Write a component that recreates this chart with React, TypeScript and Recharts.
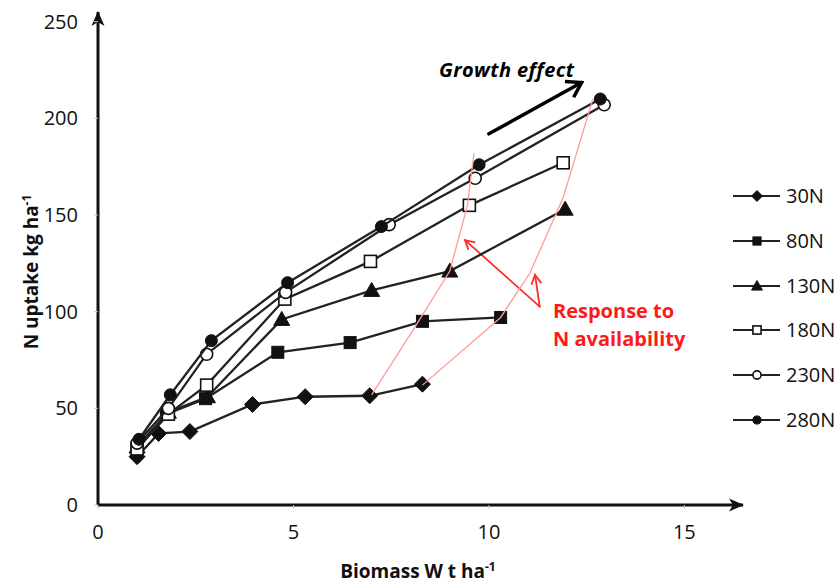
import React from 'react';
import { ComposedChart, Scatter, XAxis, YAxis, ReferenceLine, Legend } from 'recharts';

const xTicks = [0, 5, 10, 15];
const yTicks = [0, 50, 100, 150, 200, 250];

const n30 = [
  { x: 1.0, y: 25 }, { x: 1.55, y: 37 }, { x: 2.35, y: 38 }, { x: 3.95, y: 52 },
  { x: 5.3, y: 56 }, { x: 6.95, y: 56.5 }, { x: 8.3, y: 62.5 },
];
const n80 = [
  { x: 1.0, y: 30 }, { x: 1.75, y: 47 }, { x: 2.75, y: 55 }, { x: 4.6, y: 79 },
  { x: 6.45, y: 84 }, { x: 8.3, y: 95 }, { x: 10.3, y: 97 },
];
const n130 = [
  { x: 1.0, y: 30 }, { x: 1.8, y: 48 }, { x: 2.8, y: 56 }, { x: 4.7, y: 96 },
  { x: 7.0, y: 111 }, { x: 9.0, y: 121 }, { x: 11.95, y: 153 },
];
const n180 = [
  { x: 1.0, y: 29 }, { x: 1.8, y: 47 }, { x: 2.78, y: 62 }, { x: 4.78, y: 106.5 },
  { x: 6.97, y: 126 }, { x: 9.5, y: 155 }, { x: 11.9, y: 177 },
];
const n230 = [
  { x: 1.0, y: 32 }, { x: 1.8, y: 50 }, { x: 2.78, y: 78 }, { x: 4.8, y: 110 },
  { x: 7.45, y: 145 }, { x: 9.65, y: 169 }, { x: 12.95, y: 207 },
];
const n280 = [
  { x: 1.05, y: 34 }, { x: 1.85, y: 57 }, { x: 2.9, y: 85 }, { x: 4.85, y: 115 },
  { x: 7.25, y: 144 }, { x: 9.75, y: 176 }, { x: 12.85, y: 210 },
];

const seriesNames = ['30N', '80N', '130N', '180N', '230N', '280N'];
const seriesData = [n30, n80, n130, n180, n230, n280];
const markerKinds = ['diamond', 'square', 'triangle', 'square', 'circle', 'circle'];
const markerOpen = [false, false, false, true, true, false];

const responseCurveA = [
  { x: 7.0, y: 57 }, { x: 8.2, y: 95 }, { x: 9.0, y: 121 }, { x: 9.45, y: 155 }, { x: 9.62, y: 182 },
];
const responseCurveB = [
  { x: 8.3, y: 62 }, { x: 10.3, y: 97 }, { x: 11.05, y: 120 }, { x: 11.9, y: 159 }, { x: 12.66, y: 210 },
];
const growthArrow = [{ x: 10.0, y: 192 }, { x: 12.37, y: 218.5 }];
const responseArrow1 = [{ x: 11.3, y: 102.6 }, { x: 9.39, y: 137 }];
const responseArrow2 = [{ x: 11.3, y: 102.6 }, { x: 11.18, y: 119 }];

const FONT = '"Open Sans", "DejaVu Sans", sans-serif';

function drawMarker(kind: string, open: boolean, cx: number, cy: number, s = 1) {
  const fill = open ? '#fff' : '#111';
  const stroke = '#111';
  const sw = open ? 1.6 : 1;
  if (kind === 'diamond') {
    const h = 8 * s;
    return <polygon points={`${cx},${cy - h} ${cx + h},${cy} ${cx},${cy + h} ${cx - h},${cy}`} fill={fill} stroke={stroke} strokeWidth={sw} />;
  }
  if (kind === 'square') {
    const h = 6 * s;
    return <rect x={cx - h} y={cy - h} width={2 * h} height={2 * h} fill={fill} stroke={stroke} strokeWidth={sw} />;
  }
  if (kind === 'triangle') {
    const w = 8 * s;
    return <polygon points={`${cx},${cy - 8 * s} ${cx + w},${cy + 6 * s} ${cx - w},${cy + 6 * s}`} fill={fill} stroke={stroke} strokeWidth={sw} />;
  }
  return <circle cx={cx} cy={cy} r={6 * s} fill={fill} stroke={stroke} strokeWidth={sw} />;
}

function LegendBox() {
  return (
    <div style={{ fontFamily: FONT }}>
      {seriesNames.map((name, i) => (
        <div key={name} style={{ display: 'flex', alignItems: 'center', height: 44.8 }}>
          <svg width={50} height={20} style={{ display: 'block' }}>
            <line x1={0} y1={10} x2={47} y2={10} stroke="#222" strokeWidth={2.2} />
            {drawMarker(markerKinds[i], markerOpen[i], 24, 10, 0.68)}
          </svg>
          <span style={{ fontSize: 20, color: '#111', marginLeft: 3, lineHeight: 1 }}>{name}</span>
        </div>
      ))}
    </div>
  );
}

const arrowShape = (color: string, width: number, marker: string) => (p: any) => (
  <line x1={p.x1} y1={p.y1} x2={p.x2} y2={p.y2} stroke={color} strokeWidth={width} markerEnd={marker} strokeLinecap="round" />
);

export default function App() {
  return (
    <div style={{ position: 'absolute', left: 0, top: 0, width: 840, height: 583, background: '#fff', fontFamily: FONT }}>
      <svg width={0} height={0} style={{ position: 'absolute' }}>
        <defs>
          <marker id="arrowAxis" markerUnits="userSpaceOnUse" markerWidth={16} markerHeight={16} viewBox="0 0 16 16" refX={14} refY={8} orient="auto-start-reverse">
            <path d="M0,1.5 L15,8 L0,14.5 L4,8 z" fill="#111" />
          </marker>
          <marker id="arrowBlack" markerUnits="userSpaceOnUse" markerWidth={24} markerHeight={24} viewBox="0 0 24 24" refX={20} refY={12} orient="auto">
            <path d="M6,3 L20,12 L6,21" fill="none" stroke="#000" strokeWidth={3.5} strokeLinejoin="miter" />
          </marker>
          <marker id="arrowRed" markerUnits="userSpaceOnUse" markerWidth={16} markerHeight={16} viewBox="0 0 16 16" refX={14} refY={8} orient="auto">
            <path d="M5,3 L14,8 L5,13" fill="none" stroke="#ff2a2a" strokeWidth={1.8} />
          </marker>
        </defs>
      </svg>
      <ComposedChart width={840} height={583} margin={{ top: 12, right: 97, bottom: 0, left: 38 }}>
        <XAxis
          type="number"
          dataKey="x"
          domain={[0, 16.5]}
          ticks={xTicks}
          allowDataOverflow
          height={78}
          tickSize={4}
          tickMargin={16}
          tick={{ fontSize: 20, fill: '#111', fontFamily: FONT }}
          tickLine={{ stroke: '#c8c8c8' }}
          axisLine={{ stroke: '#111', strokeWidth: 3, markerEnd: 'url(#arrowAxis)' }}
        />
        <YAxis
          type="number"
          dataKey="y"
          domain={[0, 255]}
          ticks={yTicks}
          allowDataOverflow
          width={60}
          tickSize={4}
          tickMargin={16}
          tick={{ fontSize: 20, fill: '#111', fontFamily: FONT }}
          tickLine={{ stroke: '#c8c8c8' }}
          axisLine={{ stroke: '#111', strokeWidth: 3, markerStart: 'url(#arrowAxis)' }}
        />
        {seriesData.map((d, i) => (
          <Scatter
            key={seriesNames[i]}
            name={seriesNames[i]}
            data={d}
            isAnimationActive={false}
            line={{ stroke: '#222', strokeWidth: 2.3 }}
            lineType="joint"
            shape={(p: any) => drawMarker(markerKinds[i], markerOpen[i], p.cx, p.cy)}
          />
        ))}
        <Scatter data={responseCurveA} isAnimationActive={false} line={{ stroke: '#ff9a9a', strokeWidth: 1.3 }} lineType="joint" shape={() => <g />} legendType="none" />
        <Scatter data={responseCurveB} isAnimationActive={false} line={{ stroke: '#ff9a9a', strokeWidth: 1.3 }} lineType="joint" shape={() => <g />} legendType="none" />
        <ReferenceLine segment={growthArrow} stroke="#000" strokeWidth={3.5} shape={arrowShape('#000', 3.5, 'url(#arrowBlack)')} />
        <ReferenceLine segment={responseArrow1} stroke="#ff2a2a" strokeWidth={1.8} shape={arrowShape('#ff2a2a', 1.8, 'url(#arrowRed)')} />
        <ReferenceLine segment={responseArrow2} stroke="#ff2a2a" strokeWidth={1.8} shape={arrowShape('#ff2a2a', 1.8, 'url(#arrowRed)')} />
        <Legend
          layout="vertical"
          align="center"
          verticalAlign="middle"
          wrapperStyle={{ left: 733, top: 173.6, width: 107 }}
          content={() => <LegendBox />}
        />
      </ComposedChart>
      <svg width={840} height={583} style={{ position: 'absolute', left: 0, top: 0, pointerEvents: 'none' }}>
        <text x={439} y={77} fontFamily={FONT} fontWeight={700} fontStyle="italic" fontSize={20} letterSpacing={0.4} fill="#000">Growth effect</text>
        <text x={553} y={318} fontFamily={FONT} fontWeight={700} fontSize={20} fill="#ff1a1a">Response to</text>
        <text x={553} y={346} fontFamily={FONT} fontWeight={700} fontSize={20} fill="#ff1a1a">N availability</text>
        <text transform="translate(38,272) rotate(-90)" textAnchor="middle" fontFamily={FONT} fontWeight={700} fontSize={19} fill="#111">
          N uptake kg ha<tspan dy={-7} fontSize={12}>-1</tspan>
        </text>
        <text x={418} y={578} textAnchor="middle" fontFamily={FONT} fontWeight={700} fontSize={19} fill="#111">
          Biomass W t ha<tspan dy={-7} fontSize={12}>-1</tspan>
        </text>
      </svg>
    </div>
  );
}
